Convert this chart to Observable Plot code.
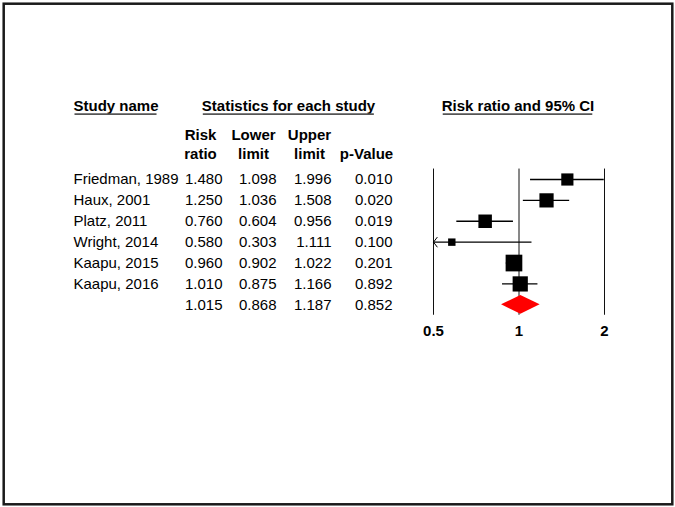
<!DOCTYPE html>
<html><head><meta charset="utf-8">
<script src="https://cdn.jsdelivr.net/npm/d3@7"></script>
<script src="https://cdn.jsdelivr.net/npm/@observablehq/plot@0.6"></script>
<style>
html,body{margin:0;padding:0;background:#fff;}
#chart svg{display:block;}
</style></head><body>
<div id="chart"></div>
<script>
// ---- data ----
const studies = ["Friedman, 1989","Haux, 2001","Platz, 2011","Wright, 2014","Kaapu, 2015","Kaapu, 2016"];
const riskRatio = [1.480,1.250,0.760,0.580,0.960,1.010];
const lowerLimit = [1.098,1.036,0.604,0.303,0.902,0.875];
const upperLimit = [1.996,1.508,0.956,1.111,1.022,1.166];
const pValue = [0.010,0.020,0.019,0.100,0.201,0.892];
const relWeight = [13.5,18.4,16.6,5.0,25.4,21.1];
const summaryStats = [1.015,0.868,1.187,0.852]; // ratio, lower, upper, p
const axisTicks = [0.5,1,2];
const sectionTitles = ["Study name","Statistics for each study","Risk ratio and 95% CI"];
const headerLine1 = ["Risk","Lower","Upper"];
const headerLine2 = ["ratio","limit","limit","p-Value"];

// ---- tables built from the arrays ----
const rows = studies.map((name,i)=>({i,name,rr:riskRatio[i],lo:lowerLimit[i],hi:upperLimit[i],p:pValue[i],w:relWeight[i]}));
const summary = {i:rows.length,name:"",rr:summaryStats[0],lo:summaryStats[1],hi:summaryStats[2],p:summaryStats[3]};
const allRows = [...rows, summary];
const xMin = axisTicks[0], xMax = axisTicks[axisTicks.length-1];
const yLo = -0.5, yHi = allRows.length - 0.5;
const diamondHalf = 0.45;
const diamond = [
  {y: summary.i - diamondHalf, x1: summary.rr, x2: summary.rr},
  {y: summary.i, x1: summary.lo, x2: summary.hi},
  {y: summary.i + diamondHalf, x1: summary.rr, x2: summary.rr}
];

// ---- layout (pixels) ----
const colKeys = ["rr","lo","hi","p"];
const colRight = [222,276,331,392];
const hdrCenters = [200,253,309,366];
const F = 15;

const chevronLeft = {draw(ctx, size){ const r = Math.sqrt(size/Math.PI); ctx.moveTo(1.3*r,-1.7*r); ctx.lineTo(0,0); ctx.lineTo(1.3*r,1.7*r); }};
const chevronRight = {draw(ctx, size){ const r = Math.sqrt(size/Math.PI); ctx.moveTo(-1.3*r,-1.7*r); ctx.lineTo(0,0); ctx.lineTo(-1.3*r,1.7*r); }};

const marks = [
  Plot.frame({inset: 3.2, stroke: "#1a1a1a", strokeWidth: 2.5}),
  // section titles
  Plot.text([sectionTitles[0]], {text: d=>d, frameAnchor:"top-left", dx:73, dy:105.2, textAnchor:"start", lineAnchor:"middle", fontWeight:"bold", fontSize:F}),
  Plot.text([sectionTitles[1]], {text: d=>d, frameAnchor:"top-left", dx:288, dy:105.2, textAnchor:"middle", lineAnchor:"middle", fontWeight:"bold", fontSize:F}),
  Plot.text([sectionTitles[2]], {text: d=>d, frameAnchor:"top-left", dx:517.5, dy:105.2, textAnchor:"middle", lineAnchor:"middle", fontWeight:"bold", fontSize:F}),
  // column headers
  ...headerLine1.map((h,k)=>Plot.text([h], {text:d=>d, frameAnchor:"top-left", dx:hdrCenters[k], dy:134.5, textAnchor:"middle", lineAnchor:"middle", fontWeight:"bold", fontSize:F})),
  ...headerLine2.map((h,k)=>Plot.text([h], {text:d=>d, frameAnchor:"top-left", dx:hdrCenters[k], dy:153.3, textAnchor:"middle", lineAnchor:"middle", fontWeight:"bold", fontSize:F})),
  // study names
  Plot.text(rows, {y:"i", text:"name", frameAnchor:"left", dx:73, textAnchor:"start", fontSize:F}),
  // numeric columns
  ...colKeys.map((k,c)=>Plot.text(allRows, {y:"i", text:d=>d[k].toFixed(3), frameAnchor:"left", dx:colRight[c], textAnchor:"end", fontSize:F})),
  // forest plot
  Plot.ruleX(axisTicks, {x:d=>d, y1:()=>yLo, y2:()=>yHi, stroke:"#111", strokeWidth:1}),
  Plot.ruleY(rows, {y:"i", x1:d=>Math.max(d.lo,xMin), x2:d=>Math.min(d.hi,xMax), stroke:"#000", strokeWidth:1.3}),
  Plot.dot(rows.filter(d=>d.lo<xMin), {x:()=>xMin, y:"i", symbol:chevronLeft, r:3, stroke:"#000", fill:"none", strokeWidth:1}),
  Plot.dot(rows.filter(d=>d.hi>xMax), {x:()=>xMax, y:"i", symbol:chevronRight, r:3, stroke:"#000", fill:"none", strokeWidth:1}),
  Plot.dot(rows, {x:"rr", y:"i", r:"w", symbol:"square", fill:"#000", stroke:null}),
  Plot.areaX(diamond, {y:"y", x1:"x1", x2:"x2", fill:"#ff0000"}),
  Plot.text(axisTicks, {x:d=>d, y:()=>yHi, dy:15.5, text:d=>String(d), fontWeight:"bold", fontSize:F})
];

const chart = Plot.plot({
  width: 675, height: 507,
  margin: 0,
  style: {fontFamily: "'Liberation Sans', Arial, sans-serif", fontSize: "15px", color: "#000", background: "#fff", overflow: "visible"},
  x: {type:"log", domain:[xMin,xMax], range:[433,604], axis:null},
  y: {type:"linear", domain:[yLo,yHi], range:[168.55,314.75], axis:null},
  r: {type:"sqrt", domain:[0, d3.max(relWeight)], range:[0, 16.7/Math.sqrt(Math.PI)]},
  marks
});
document.getElementById("chart").append(chart);

// underline section titles (bbox mapped into SVG coordinates)
const ns = "http://www.w3.org/2000/svg";
const rootInv = chart.getCTM() ? chart.getCTM().inverse() : null;
chart.querySelectorAll("text").forEach(t => {
  if (!sectionTitles.includes(t.textContent)) return;
  const b = t.getBBox();
  let m = t.getCTM();
  if (rootInv && m) m = rootInv.multiply(m);
  const pt = (x, y) => { const p = chart.createSVGPoint(); p.x = x; p.y = y; return m ? p.matrixTransform(m) : p; };
  const yy = b.y + b.height + 0.6;
  const p1 = pt(b.x + 1, yy), p2 = pt(b.x + b.width - 2, yy);
  const line = document.createElementNS(ns, "line");
  line.setAttribute("x1", p1.x); line.setAttribute("x2", p2.x);
  line.setAttribute("y1", p1.y); line.setAttribute("y2", p2.y);
  line.setAttribute("stroke", "#555"); line.setAttribute("stroke-width", 1.6);
  chart.appendChild(line);
});
</script>
</body></html>
